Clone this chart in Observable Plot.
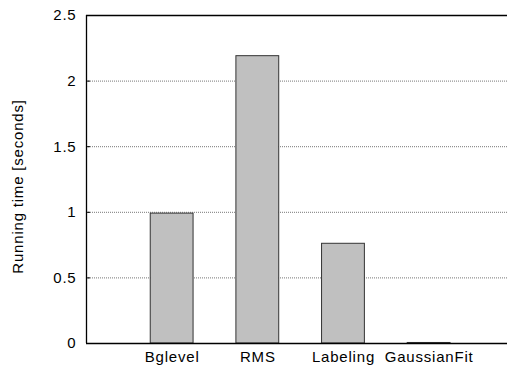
<!DOCTYPE html>
<html>
<head>
<meta charset="utf-8">
<script src="https://cdn.jsdelivr.net/npm/d3@7"></script>
<script src="https://cdn.jsdelivr.net/npm/@observablehq/plot@0.6"></script>
<style>
  html, body { margin: 0; padding: 0; background: #fff; }
  #chart svg { display: block; }
  #chart svg text { letter-spacing: 0.8px; }
</style>
</head>
<body>
<div id="chart"></div>
<script>
const categories = ["Bglevel", "RMS", "Labeling", "GaussianFit"];
const runningTime = [0.99, 2.19, 0.76, 0.004];
const yTicks = [0, 0.5, 1, 1.5, 2, 2.5];
const yGrid = [0.5, 1, 1.5, 2];

const data = categories.map((c, i) => ({i, name: c, value: runningTime[i]}));

const W = 507, H = 375, ML = 86, MR = 0, MT = 15, MB = 32;
const font = "'Liberation Sans', Arial, Helvetica, sans-serif";

const chart = Plot.plot({
  width: W,
  height: H,
  marginLeft: ML,
  marginRight: MR,
  marginTop: MT,
  marginBottom: MB,
  style: {fontFamily: font, fontSize: "15px", color: "#000", background: "#fff", overflow: "visible"},
  x: {type: "linear", domain: [-1, 3.915], axis: null},
  y: {domain: [0, 2.5], axis: null},
  marks: [
    Plot.ruleY(yGrid, {y: d => d, stroke: "#777", strokeWidth: 1, strokeDasharray: "1,1"}),
    Plot.rectY(data, {x1: d => d.i - 0.25, x2: d => d.i + 0.25, y1: 0, y2: "value", fill: "#c0c0c0", stroke: "#333", strokeWidth: 1}),
    Plot.tickY(yTicks, {y: d => d, stroke: "#000", insetRight: W - ML - MR - 4}),
    Plot.ruleY([0, 2.5], {stroke: "#000", strokeWidth: 1.3}),
    Plot.ruleX([-1], {stroke: "#000", strokeWidth: 1.3}),
    Plot.axisY(yTicks, {tickSize: 0, tickPadding: 10, tickFormat: d => String(d), fontSize: 15, label: null}),
    Plot.axisX(categories.map((c, i) => i), {tickSize: 0, tickPadding: 8, tickFormat: i => categories[i], fontSize: 15, label: null}),
    Plot.text(["Running time [seconds]"], {frameAnchor: "left", dx: -68, dy: 7, rotate: -90, fontSize: 15, textAnchor: "middle"})
  ]
});

document.getElementById("chart").appendChild(chart);
</script>
</body>
</html>
